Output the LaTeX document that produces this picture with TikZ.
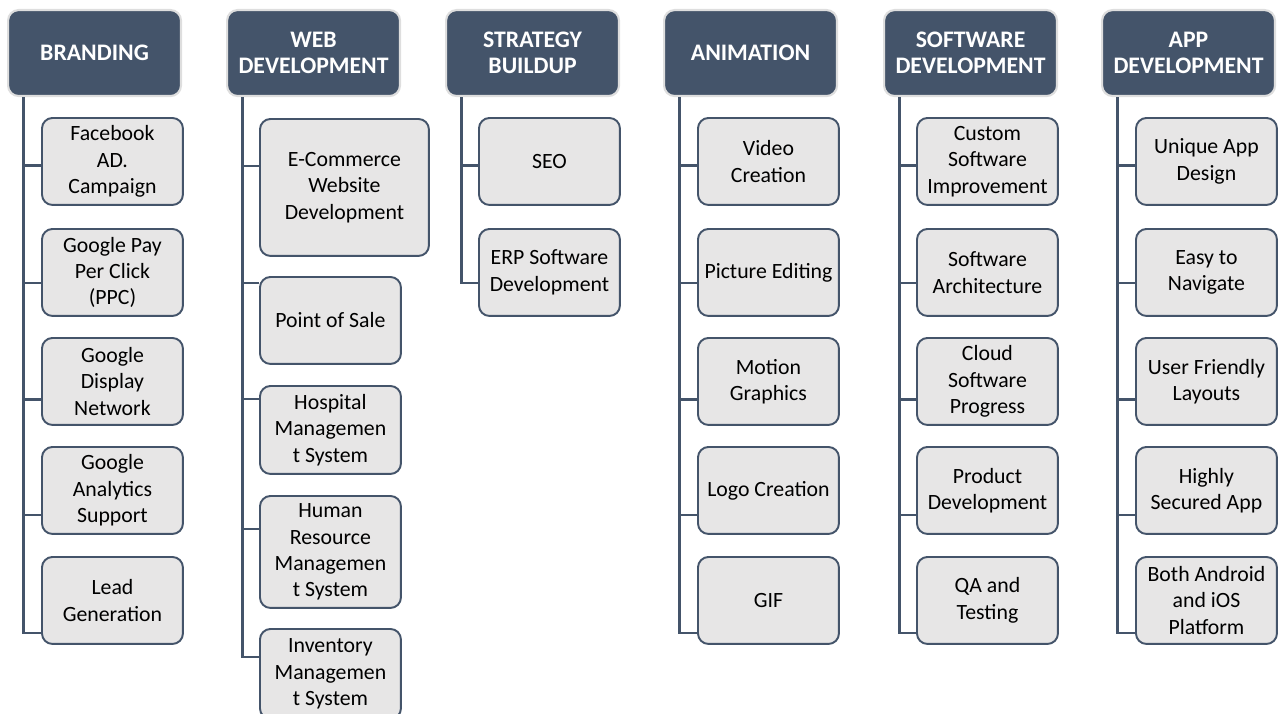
\documentclass[tikz,border=0pt]{standalone}
\usepackage{fontspec}
\setmainfont{Carlito}
\definecolor{slate}{HTML}{44546A}
\definecolor{tilegray}{HTML}{E7E6E6}
\tikzset{
  head/.style={anchor=north west,rounded corners=6pt,fill=slate,draw=black!13,line width=1.2pt,
    minimum width=3.46cm,minimum height=1.72cm,text=white,align=center,inner sep=1pt,
    font=\fontsize{13.5}{15}\selectfont\bfseries},
  item/.style={anchor=north west,rounded corners=6pt,fill=tilegray,draw=slate,line width=1.1pt,
    minimum width=2.82cm,minimum height=1.74cm,align=center,inner sep=1pt,
    font=\fontsize{12.4}{15}\selectfont},
  link/.style={draw=slate,line width=1.6pt}
}
\begin{document}
\begin{tikzpicture}[x=0.02cm,y=-0.02cm]
  \useasboundingbox (0,0) rectangle (1280,713);
  % Headers
  \node[head] (brand) at (7,9) {BRANDING};
  \node[head] (web) at (226,9) {WEB\\DEVELOPMENT};
  \node[head] (strat) at (445,9) {STRATEGY\\BUILDUP};
  \node[head] (anim) at (663,9) {ANIMATION};
  \node[head] (soft) at (883,9) {SOFTWARE\\DEVELOPMENT};
  \node[head] (app) at (1101,9) {APP\\DEVELOPMENT};
  % Branding
  \foreach \i/\ty/\dy/\txt in {1/117/-0.08/{Facebook\\AD.\\Campaign},
      2/228/-0.21/{Google Pay\\Per Click\\(PPC)},
      3/337/-0.36/{Google\\Display\\Network},
      4/446/-0.49/{Google\\Analytics\\Support},
      5/556/-0.65/{Lead\\Generation}} {
    \node[item] (brand-\i) at (41,\ty) {\txt};
    \draw[link] ([xshift=0.33cm]brand.south west) |- ([yshift=\dy cm]brand-\i.west);
  }
  % Web development
  \node[item,minimum width=3.38cm,minimum height=2.74cm] (web-1) at (259,118) {E-Commerce\\Website\\Development};
  \node[item] (web-2) at (259,276) {Point of Sale};
  \node[item,minimum height=1.76cm] (web-3) at (259,385) {Hospital\\Managemen\\t System};
  \node[item,minimum height=2.24cm] (web-4) at (259,495) {Human\\Resource\\Managemen\\t System};
  \node[item,minimum height=1.8cm] (web-5) at (259,628) {Inventory\\Managemen\\t System};
  \foreach \i/\dy in {1/0.43,2/0.75,3/0.62,4/0.46,5/0.34}
    \draw[link] ([xshift=0.33cm]web.south west) |- ([yshift=\dy cm]web-\i.west);
  % Strategy buildup
  \foreach \i/\ty/\dy/\txt in {1/117/-0.08/{SEO},
      2/228/-0.21/{ERP Software\\Development}} {
    \node[item] (strat-\i) at (478,\ty) {\txt};
    \draw[link] ([xshift=0.33cm]strat.south west) |- ([yshift=\dy cm]strat-\i.west);
  }
  % Animation
  \foreach \i/\ty/\dy/\txt in {1/117/-0.08/{Video\\Creation},
      2/228/-0.21/{Picture Editing},
      3/337/-0.36/{Motion\\Graphics},
      4/446/-0.49/{Logo Creation},
      5/556/-0.65/{GIF}} {
    \node[item] (anim-\i) at (697,\ty) {\txt};
    \draw[link] ([xshift=0.33cm]anim.south west) |- ([yshift=\dy cm]anim-\i.west);
  }
  % Software development
  \foreach \i/\ty/\dy/\txt in {1/117/-0.08/{Custom\\Software\\Improvement},
      2/228/-0.21/{Software\\Architecture},
      3/337/-0.36/{Cloud\\Software\\Progress},
      4/446/-0.49/{Product\\Development},
      5/556/-0.65/{QA and\\Testing}} {
    \node[item] (soft-\i) at (916,\ty) {\txt};
    \draw[link] ([xshift=0.33cm]soft.south west) |- ([yshift=\dy cm]soft-\i.west);
  }
  % App development
  \foreach \i/\ty/\dy/\txt in {1/117/-0.08/{Unique App\\Design},
      2/228/-0.21/{Easy to\\Navigate},
      3/337/-0.36/{User Friendly\\Layouts},
      4/446/-0.49/{Highly\\Secured App},
      5/556/-0.65/{Both Android\\and iOS\\Platform}} {
    \node[item] (app-\i) at (1135,\ty) {\txt};
    \draw[link] ([xshift=0.33cm]app.south west) |- ([yshift=\dy cm]app-\i.west);
  }
\end{tikzpicture}
\end{document}
